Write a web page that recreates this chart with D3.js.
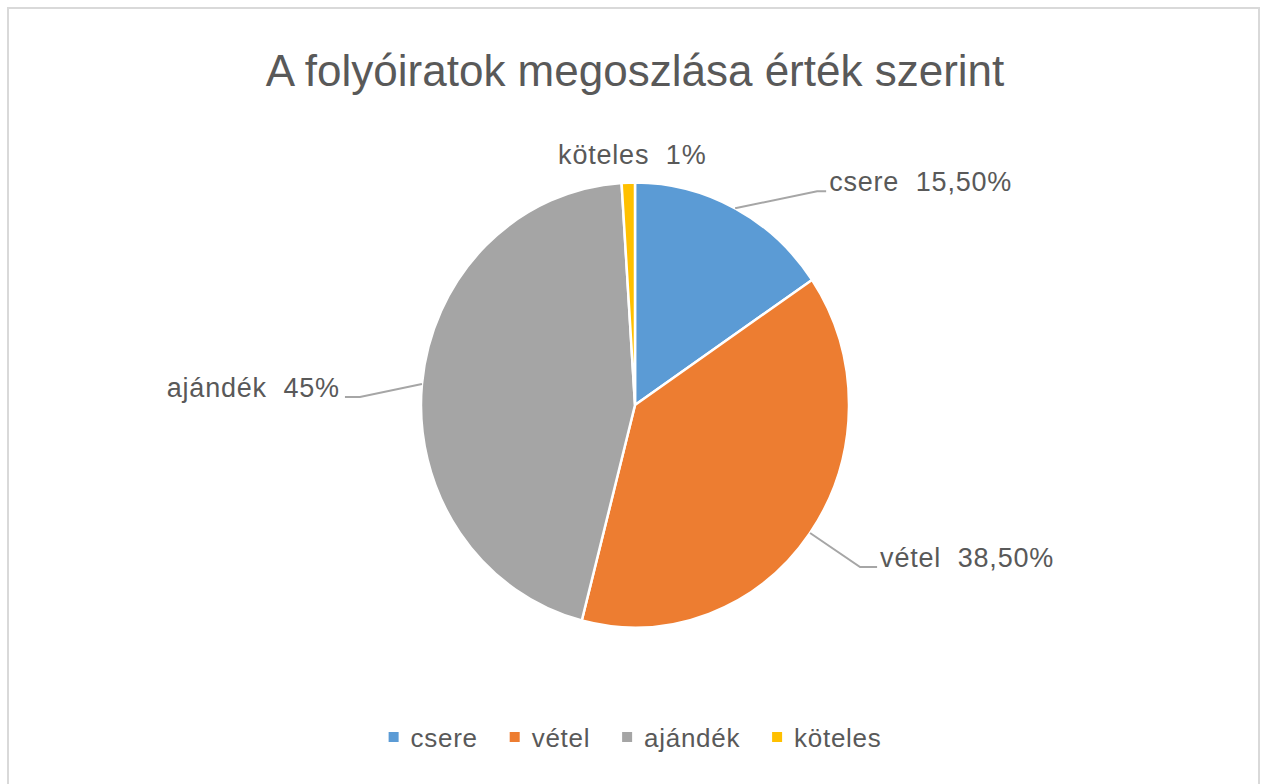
<!DOCTYPE html>
<html>
<head>
<meta charset="utf-8">
<script src="https://cdn.jsdelivr.net/npm/d3@7"></script>
<style>
  html, body { margin: 0; padding: 0; background: #fff; }
  svg { display: block; }
  text { font-family: "Liberation Sans", Arial, sans-serif; fill: #595959; }
</style>
</head>
<body>
<svg></svg>
<script>
"use strict";

const categories = ["csere", "vétel", "ajándék", "köteles"];
const values = [15.5, 38.5, 45, 1];
const pctLabels = ["15,50%", "38,50%", "45%", "1%"];
const colors = ["#5B9BD5", "#ED7D31", "#A5A5A5", "#FFC000"];
const title = "A folyóiratok megoszlása érték szerint";

const width = 1265;
const height = 784;
const cx = 635;
const cy = 405;
const radius = 214;
const yStretch = 1.04;

// where the data labels sit relative to the slice edge
const labelLayout = [
  { dx: 82, dy: -17, tail: 9, anchor: "start" },
  { dx: 50, dy: 34, tail: 17, anchor: "start" },
  { dx: -62, dy: 13, tail: -15, anchor: "end" },
  { dx: 4, dy: -19, tail: 0, anchor: "middle", noLine: true },
];

const svg = d3.select("svg").attr("width", width).attr("height", height);

const drawFrame = () => {
  svg
    .append("rect")
    .attr("x", 8)
    .attr("y", 8)
    .attr("width", 1251)
    .attr("height", 790)
    .attr("fill", "#fff")
    .attr("stroke", "#d9d9d9")
    .attr("stroke-width", 2);

  svg
    .append("text")
    .attr("x", cx)
    .attr("y", 86)
    .attr("text-anchor", "middle")
    .style("font-size", "44px")
    .text(title);
};

const pie = d3.pie().sort(null).value((d) => d);
const arcs = pie(values);
const arc = d3.arc().innerRadius(0).outerRadius(radius);
const edgeArc = d3.arc().innerRadius(radius).outerRadius(radius);

const drawPie = () => {
  const g = svg
    .append("g")
    .attr("transform", `translate(${cx},${cy}) scale(1,${yStretch})`);

  g.selectAll("path")
    .data(arcs)
    .enter()
    .append("path")
    .attr("d", arc)
    .attr("fill", (d, i) => colors[i])
    .attr("stroke", "#fff")
    .attr("stroke-width", 2.5)
    .attr("vector-effect", "non-scaling-stroke");
};

const drawLabels = () => {
  arcs.forEach((d, i) => {
    const [ex, ey] = edgeArc.centroid(d);
    const px = cx + ex;
    const py = cy + ey * yStretch;
    const lay = labelLayout[i];
    const bx = px + lay.dx;
    const by = py + lay.dy;
    const tx = bx + lay.tail;

    if (!lay.noLine) {
      svg
        .append("polyline")
        .attr("points", `${px},${py} ${bx},${by} ${tx},${by}`)
        .attr("fill", "none")
        .attr("stroke", "#a6a6a6")
        .attr("stroke-width", 2);
    }

    const off = lay.anchor === "start" ? 3 : lay.anchor === "end" ? -5 : 0;
    svg
      .append("text")
      .attr("x", tx + off)
      .attr("y", by)
      .attr("text-anchor", lay.anchor)
      .style("font-size", "27px")
      .style("letter-spacing", "0.8px")
      .style("white-space", "pre")
      .text(`${categories[i]}  ${pctLabels[i]}`);
  });
};

const drawLegend = () => {
  const legend = svg.append("g");
  let x = 0;
  categories.forEach((c, i) => {
    const item = legend.append("g").attr("transform", `translate(${x},0)`);
    item
      .append("rect")
      .attr("x", 0)
      .attr("y", -15)
      .attr("width", 10)
      .attr("height", 10)
      .attr("fill", colors[i]);
    const t = item
      .append("text")
      .attr("x", 22)
      .attr("y", 0)
      .style("font-size", "26px")
      .style("letter-spacing", "0.7px")
      .text(c);
    x += 22 + t.node().getComputedTextLength() + 32;
  });
  const w = x - 32;
  legend.attr("transform", `translate(${cx - w / 2},747)`);
};

drawFrame();
drawPie();
drawLabels();
drawLegend();
</script>
</body>
</html>
